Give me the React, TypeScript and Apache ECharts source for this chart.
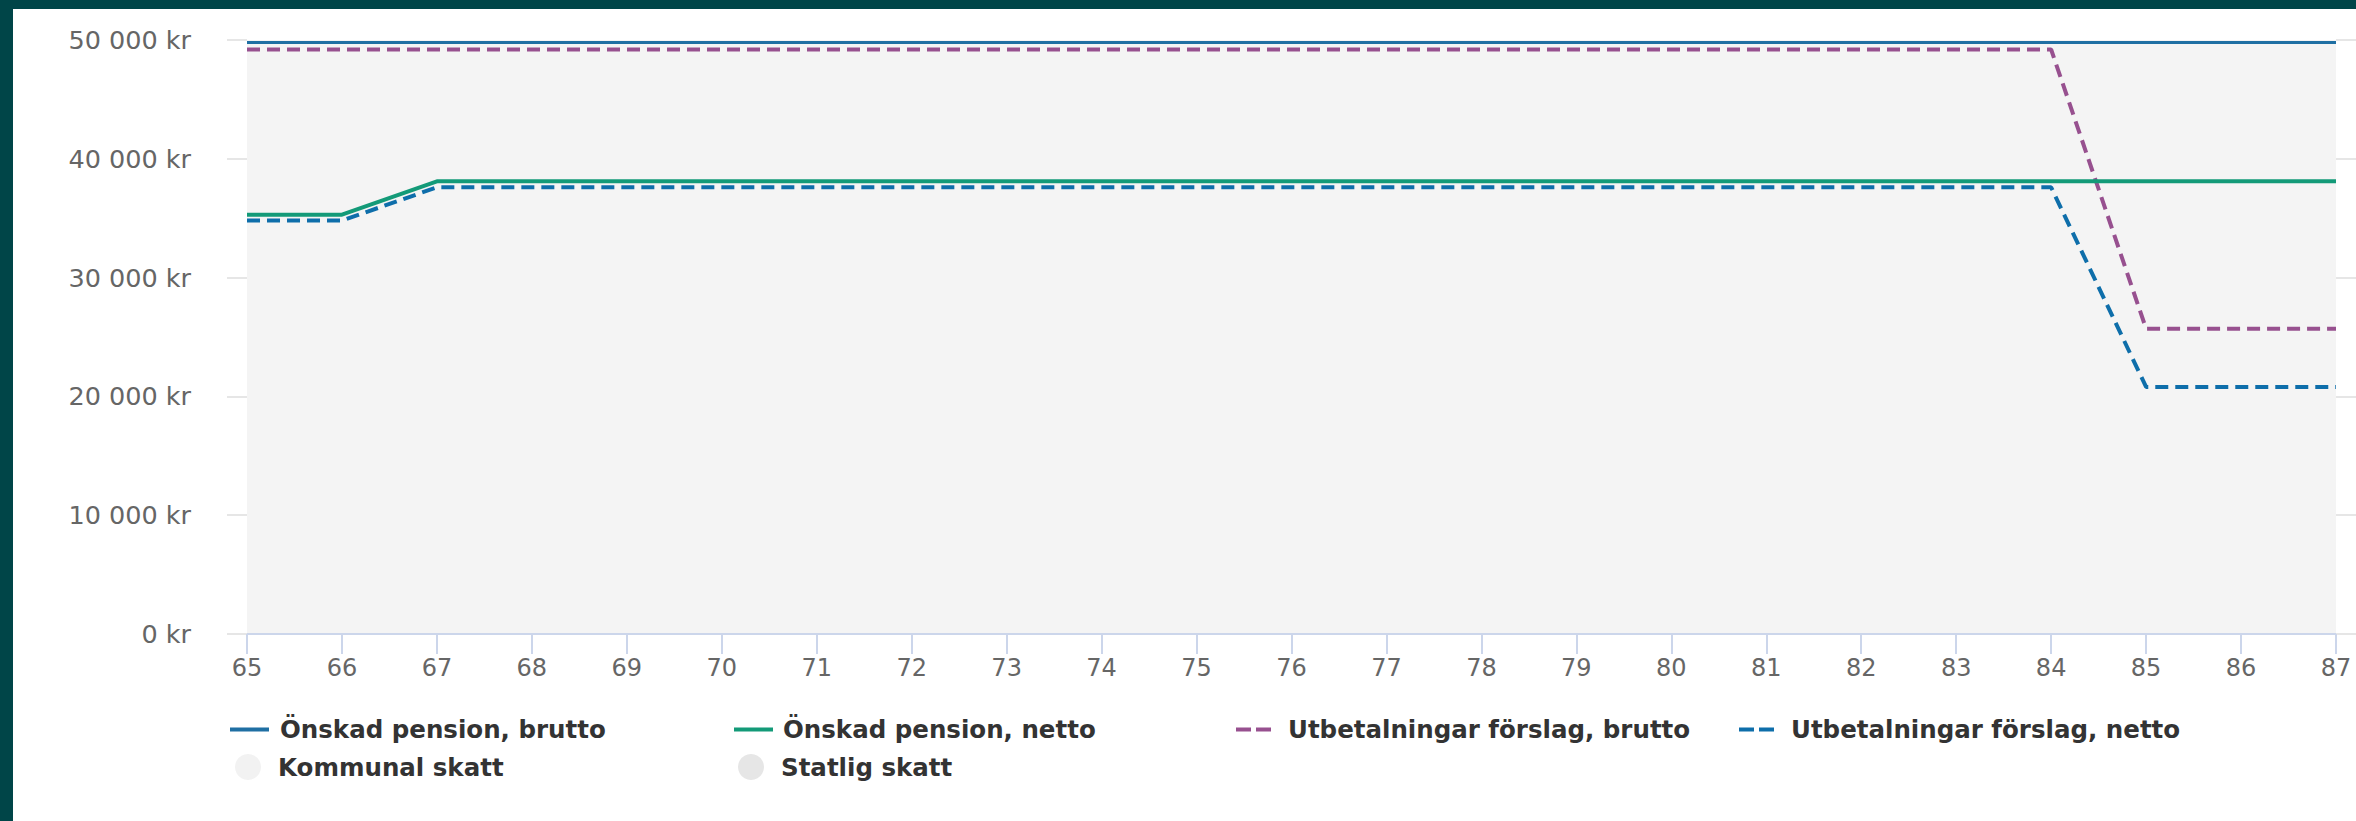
import React, { useEffect, useRef } from "react";
import * as echarts from "echarts";

const ages = ["65", "66", "67", "68", "69", "70", "71", "72", "73", "74", "75", "76", "77", "78", "79", "80", "81", "82", "83", "84", "85", "86", "87"];

const onskadBrutto = [49800, 49800, 49800, 49800, 49800, 49800, 49800, 49800, 49800, 49800, 49800, 49800, 49800, 49800, 49800, 49800, 49800, 49800, 49800, 49800, 49800, 49800, 49800];
const onskadNetto = [35300, 35300, 38100, 38100, 38100, 38100, 38100, 38100, 38100, 38100, 38100, 38100, 38100, 38100, 38100, 38100, 38100, 38100, 38100, 38100, 38100, 38100, 38100];
const forslagBrutto = [49200, 49200, 49200, 49200, 49200, 49200, 49200, 49200, 49200, 49200, 49200, 49200, 49200, 49200, 49200, 49200, 49200, 49200, 49200, 49200, 25700, 25700, 25700];
const forslagNetto = [34800, 34800, 37600, 37600, 37600, 37600, 37600, 37600, 37600, 37600, 37600, 37600, 37600, 37600, 37600, 37600, 37600, 37600, 37600, 37600, 20800, 20800, 20800];
const kommunalSkatt: number[] = [];
const statligSkatt: number[] = [];

const yMin = 0;
const yMax = 50000;
const yStep = 10000;

const seriesNames = [
  "Önskad pension, brutto",
  "Önskad pension, netto",
  "Utbetalningar förslag, brutto",
  "Utbetalningar förslag, netto",
  "Kommunal skatt",
  "Statlig skatt",
];

const fmtKr = (v: number) => String(v).replace(/\B(?=(\d{3})+(?!\d))/g, " ") + " kr";

const font = "'DejaVu Sans', Verdana, sans-serif";
const dash = [13, 7];
const legendDash = [15, 5];

function lg(name: string, left: number, top: number, w: number, h: number, pad: number, icon?: string, lw?: number, dashed?: boolean) {
  const l: any = {
    data: [icon ? { name, icon } : { name }],
    left,
    top,
    orient: "horizontal",
    padding: 0,
    itemWidth: w,
    itemHeight: h,
    selectedMode: false,
    textStyle: {
      fontFamily: font,
      fontSize: 24.5,
      fontWeight: "bold",
      color: "#333333",
      padding: [0, 0, 0, pad],
    },
  };
  if (!icon) {
    l.itemStyle = { opacity: 0, borderWidth: 0 };
    l.lineStyle = { width: lw, type: dashed ? legendDash : "solid" };
  }
  return l;
}

export default function App() {
  const ref = useRef<HTMLDivElement>(null);
  useEffect(() => {
    if (!ref.current) return;
    const chart = echarts.init(ref.current, undefined, { renderer: "svg" });
    chart.setOption({
      animation: false,
      backgroundColor: "#ffffff",
      grid: {
        left: 234,
        right: 20,
        top: 31,
        bottom: 187,
        show: true,
        backgroundColor: "#f4f4f4",
        borderWidth: 0,
      },
      legend: [
        lg(seriesNames[0], 215, 708, 39, 14, 6, undefined, 4, false),
        lg(seriesNames[1], 719, 708, 39, 14, 5, undefined, 4, false),
        lg(seriesNames[2], 1221, 708, 35, 14, 12, undefined, 4, true),
        lg(seriesNames[3], 1724, 708, 35, 14, 12, undefined, 4, true),
        lg(seriesNames[4], 222, 745, 26, 26, 12, "circle"),
        lg(seriesNames[5], 725, 745, 26, 26, 12, "circle"),
      ],
      xAxis: {
        type: "category",
        data: ages,
        boundaryGap: false,
        axisLine: { show: true, lineStyle: { color: "#ccd6eb", width: 2 } },
        axisTick: { show: true, length: 20, interval: 0, lineStyle: { color: "#ccd6eb", width: 2 } },
        axisLabel: {
          interval: 0,
          margin: 22,
          fontFamily: font,
          fontSize: 24,
          color: "#666666",
        },
        splitLine: { show: false },
      },
      yAxis: [
        {
          type: "value",
          min: yMin,
          max: yMax,
          interval: yStep,
          position: "left",
          axisLine: { show: false },
          axisTick: { show: true, length: 20, lineStyle: { color: "#e6e6e6", width: 2 } },
          axisLabel: {
            margin: 56,
            fontFamily: font,
            fontSize: 25.5,
            color: "#666666",
            formatter: fmtKr,
          },
          splitLine: { show: false },
        },
        {
          type: "value",
          min: yMin,
          max: yMax,
          interval: yStep,
          position: "right",
          axisLine: { show: false },
          axisTick: { show: true, length: 20, lineStyle: { color: "#e6e6e6", width: 2 } },
          axisLabel: { show: false },
          splitLine: { show: false },
        },
      ],
      series: [
        {
          name: seriesNames[0],
          type: "line",
          data: onskadBrutto,
          symbol: "none",
          color: "#1f6fa3",
          lineStyle: { width: 3, color: "#1f6fa3" },
          z: 3,
        },
        {
          name: seriesNames[1],
          type: "line",
          data: onskadNetto,
          symbol: "none",
          color: "#139a78",
          lineStyle: { width: 4, color: "#139a78" },
          z: 5,
        },
        {
          name: seriesNames[2],
          type: "line",
          data: forslagBrutto,
          symbol: "none",
          color: "#97508f",
          lineStyle: { width: 4, color: "#97508f", type: dash },
          z: 4,
        },
        {
          name: seriesNames[3],
          type: "line",
          data: forslagNetto,
          symbol: "none",
          color: "#0e6eaa",
          lineStyle: { width: 4, color: "#0e6eaa", type: dash },
          z: 4,
        },
        {
          name: seriesNames[4],
          type: "bar",
          data: kommunalSkatt,
          color: "#f2f2f2",
          itemStyle: { color: "#f2f2f2" },
        },
        {
          name: seriesNames[5],
          type: "bar",
          data: statligSkatt,
          color: "#e6e6e6",
          itemStyle: { color: "#e6e6e6" },
        },
      ],
    });
    return () => chart.dispose();
  }, []);

  return (
    <div style={{ position: "absolute", left: 0, top: 0, width: 2356, height: 821, background: "#004548" }}>
      <div
        ref={ref}
        style={{ position: "absolute", left: 13, top: 9, width: 2343, height: 812, background: "#ffffff" }}
      />
    </div>
  );
}
